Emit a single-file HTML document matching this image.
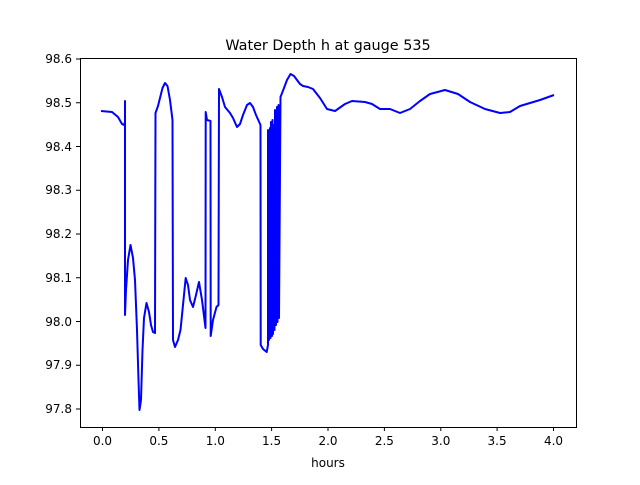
<!DOCTYPE html>
<html><head><meta charset="utf-8"><style>body{margin:0;background:#fff}</style></head><body>
<svg width="640" height="480" xmlns="http://www.w3.org/2000/svg" font-family="DejaVu Sans, Liberation Sans, sans-serif">
<rect width="640" height="480" fill="#fff"/>
<polyline fill="none" stroke="#0000ff" stroke-width="2" stroke-linejoin="round" points="
101,111 112,112 118,117 122,124 124,125 125,122 125,101 125,315 126,290 128,260 130.5,245 133,258 135,280 137,330 138.5,380 139.5,410 141,400 142.5,350 144,318 146.5,303 149,312 151,325 153,332 155,333 155.5,113 158,106 160,98 162.5,88 165,83 167.5,86 170,100 172.5,120 173,340 175,347 178,340 180.5,330 183,305 185.7,278 188,285 190,300 193,307 196,295 199,282 202,300 205.5,328 205.7,112 207,120 210.5,121 210.7,336 213,320 216.5,307 218.5,305 219,89 222,97 225,107 230,113 233,118 237,127 240,124 243,115 247,105 250,103 253,107 256,115 260.5,125 260.7,345 263,349 266.7,352 268,345 268,130 269,340 270,128 270.5,338 271,122 272,336 272.5,120 273,334 274,125 274.5,330 275,110 276,325 277,107 277.5,322 278.5,105 279,318 280.5,97 284,88 287,80 290.5,74 294,76 297,80 300,84 303,86 308,87 313,89 320,98 327,109 335,111 345,104 352,101 365,102 372,104 380,109 390,109 400,113 410,109 420,101 430,94 445,90 458,94 470,102 485,109 500,113 510,112 520,106 540,100 554,95"/>
<rect x="80.5" y="58.5" width="496" height="369" fill="none" stroke="#000" stroke-width="1"/>
<g stroke="#000" stroke-width="1">
<line x1="102.5" y1="427" x2="102.5" y2="431"/><line x1="158.9" y1="427" x2="158.9" y2="431"/><line x1="215.3" y1="427" x2="215.3" y2="431"/><line x1="271.6" y1="427" x2="271.6" y2="431"/><line x1="328" y1="427" x2="328" y2="431"/><line x1="384.4" y1="427" x2="384.4" y2="431"/><line x1="440.8" y1="427" x2="440.8" y2="431"/><line x1="497.1" y1="427" x2="497.1" y2="431"/><line x1="553.5" y1="427" x2="553.5" y2="431"/>
<line x1="76" y1="59" x2="80" y2="59"/><line x1="76" y1="102.75" x2="80" y2="102.75"/><line x1="76" y1="146.5" x2="80" y2="146.5"/><line x1="76" y1="190.25" x2="80" y2="190.25"/><line x1="76" y1="234" x2="80" y2="234"/><line x1="76" y1="277.75" x2="80" y2="277.75"/><line x1="76" y1="321.5" x2="80" y2="321.5"/><line x1="76" y1="365.25" x2="80" y2="365.25"/><line x1="76" y1="409" x2="80" y2="409"/>
</g>
<g font-size="12" fill="#000" text-anchor="middle">
<text x="102.5" y="445">0.0</text><text x="158.9" y="445">0.5</text><text x="215.3" y="445">1.0</text><text x="271.6" y="445">1.5</text><text x="328" y="445">2.0</text><text x="384.4" y="445">2.5</text><text x="440.8" y="445">3.0</text><text x="497.1" y="445">3.5</text><text x="553.5" y="445">4.0</text>
<text x="328" y="467">hours</text>
</g>
<g font-size="12" fill="#000" text-anchor="end">
<text x="72" y="63">98.6</text><text x="72" y="107">98.5</text><text x="72" y="151">98.4</text><text x="72" y="194">98.3</text><text x="72" y="238">98.2</text><text x="72" y="282">98.1</text><text x="72" y="326">98.0</text><text x="72" y="369">97.9</text><text x="72" y="413">97.8</text>
</g>
<text x="328" y="50" font-size="14.4" text-anchor="middle">Water Depth h at gauge 535</text>
</svg>
</body></html>
